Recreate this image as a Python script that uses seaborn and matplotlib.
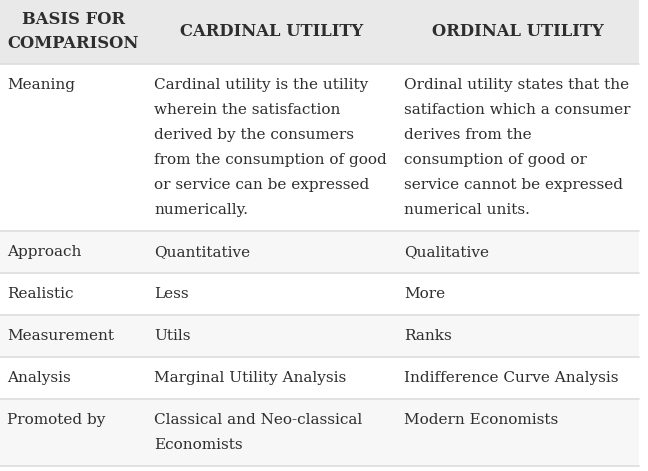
import matplotlib
matplotlib.use("Agg")
import matplotlib.pyplot as plt
import seaborn as sns

sns.set_theme(style="white")
plt.rcParams['font.family'] = ['DejaVu Serif']

headers = [["BASIS FOR", "COMPARISON"], ["CARDINAL UTILITY"], ["ORDINAL UTILITY"]]
basis = ["Meaning", "Approach", "Realistic", "Measurement", "Analysis", "Promoted by"]
cardinal = [
    ["Cardinal utility is the utility", "wherein the satisfaction", "derived by the consumers",
     "from the consumption of good", "or service can be expressed", "numerically."],
    ["Quantitative"], ["Less"], ["Utils"], ["Marginal Utility Analysis"],
    ["Classical and Neo-classical", "Economists"],
]
ordinal = [
    ["Ordinal utility states that the", "satifaction which a consumer", "derives from the",
     "consumption of good or", "service cannot be expressed", "numerical units."],
    ["Qualitative"], ["More"], ["Ranks"], ["Indifference Curve Analysis"],
    ["Modern Economists"],
]

W, H = 648, 471
fig = plt.figure(figsize=(W / 100, H / 100), dpi=100)
ax = fig.add_axes([0, 0, 1, 1])
ax.set_xlim(0, W)
ax.set_ylim(H, 0)
ax.axis("off")

col_edges = [0, 147, 397, 639]
pad = 7
line_h = 25
hdr_line_h = 24
txt_color = "#2e2e2e"
fs = 11
hfs = 11.8

# header
hdr_h = 64
ax.axhspan(0, hdr_h, xmin=0, xmax=col_edges[-1] / W, color="#e9e9e9", lw=0)
for c, lines in enumerate(headers):
    cx = (col_edges[c] + col_edges[c + 1]) / 2
    n = len(lines)
    y0 = hdr_h / 2 - (n - 1) * hdr_line_h / 2 - 1
    for i, t in enumerate(lines):
        ax.text(cx, y0 + i * hdr_line_h, t, ha="center", va="center",
                fontsize=hfs, fontweight="bold", color=txt_color)
ax.plot([0, col_edges[-1]], [hdr_h, hdr_h], color="#dddddd", lw=1.2)

y = hdr_h
for r in range(len(basis)):
    cells = [[basis[r]], cardinal[r], ordinal[r]]
    n = max(len(c) for c in cells)
    h = 17 + line_h * n
    if r % 2 == 1:
        ax.axhspan(y, y + h, xmin=0, xmax=col_edges[-1] / W, color="#f7f7f7", lw=0)
    for c, lines in enumerate(cells):
        for i, t in enumerate(lines):
            ax.text(col_edges[c] + pad, y + 8.5 + line_h / 2 + i * line_h, t,
                    ha="left", va="center", fontsize=fs, color=txt_color)
    y += h
    ax.plot([0, col_edges[-1]], [y, y], color="#dddddd", lw=1.2)

fig.savefig("out.png", dpi=100)
